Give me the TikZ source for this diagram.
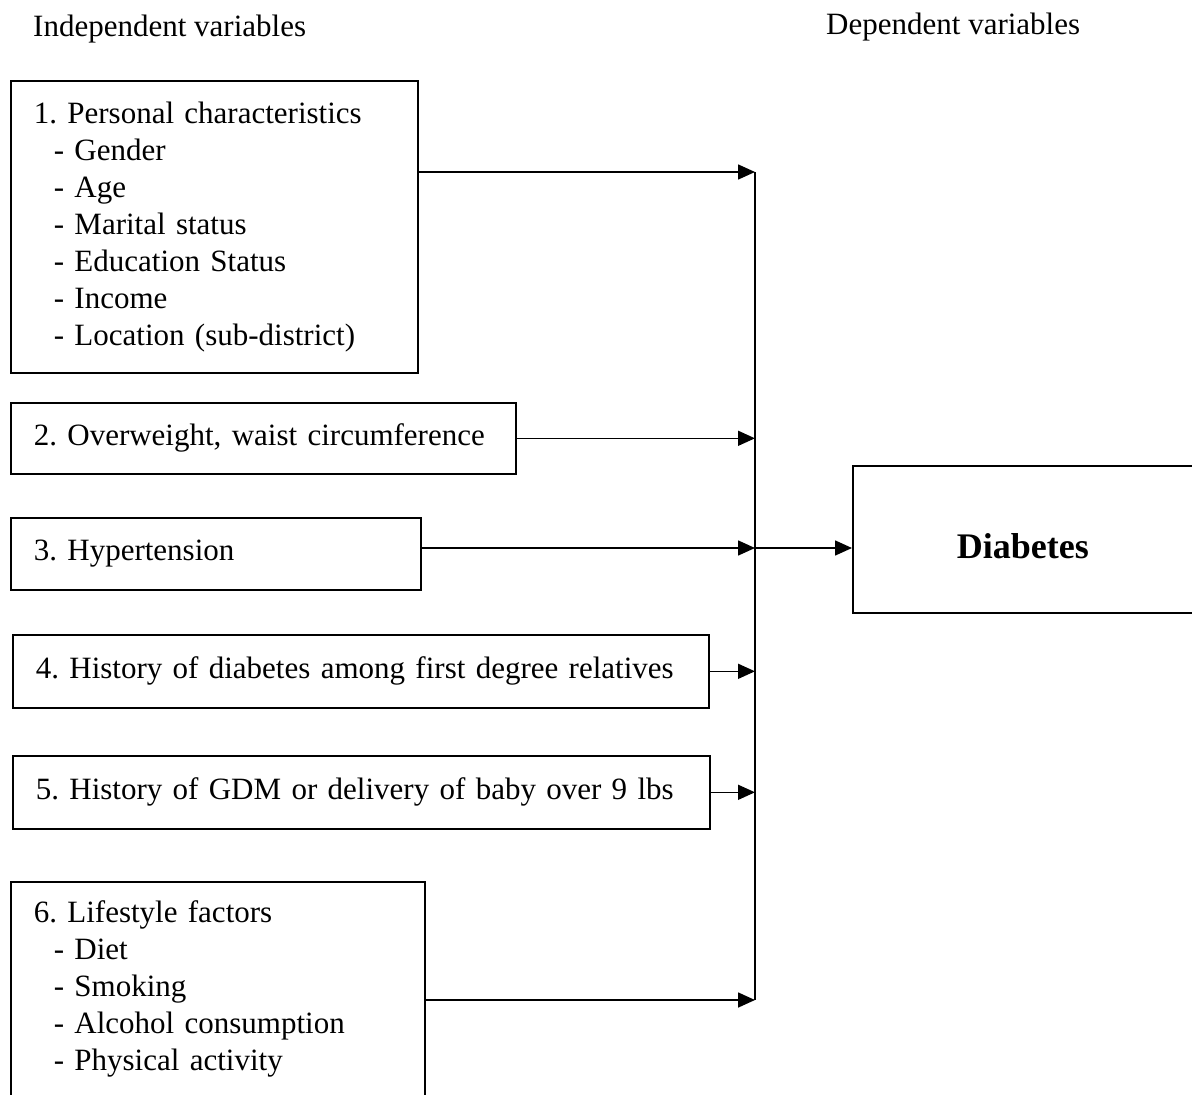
\documentclass[tikz,border=0pt]{standalone}
\usepackage{fontspec}
\setmainfont{Liberation Serif}
\usetikzlibrary{arrows.meta}
\frenchspacing
\tikzset{
  box/.style={draw, line width=1.6pt, anchor=north west, inner xsep=23pt, inner ysep=0pt, align=left,
    font=\fontsize{31}{37}\selectfont\frenchspacing},
  hdr/.style={anchor=west, inner sep=0pt, font=\fontsize{31}{37}\selectfont},
  conn/.style={line width=1.6pt},
  arr/.style={line width=1.6pt, -{Triangle[length=17pt,width=15pt]}}
}
\begin{document}
\begin{tikzpicture}[x=1pt,y=-1pt]
\useasboundingbox (0,0) rectangle (1192,1095);
\node[hdr] (h1) at (33,29) {Independent variables};
\node[hdr] (h2) at (826,27) {Dependent variables};

\node[box, text width=361pt, minimum height=292pt] (b1) at (10,80)
  {1. Personal characteristics\\
   \hspace*{20pt}- Gender\\
   \hspace*{20pt}- Age\\
   \hspace*{20pt}- Marital status\\
   \hspace*{20pt}- Education Status\\
   \hspace*{20pt}- Income\\
   \hspace*{20pt}- Location (sub-district)};
\node[box, text width=459pt, minimum height=71pt] (b2) at (10,402)
  {2. Overweight, waist circumference};
\node[box, text width=364pt, minimum height=72pt] (b3) at (10,517)
  {3. Hypertension};
\node[box, text width=650pt, minimum height=73pt] (b4) at (12,634)
  {4. History of diabetes among first degree relatives};
\node[box, text width=651pt, minimum height=73pt] (b5) at (12,755)
  {5. History of GDM or delivery of baby over 9 lbs};
\node[box, text width=368pt, minimum height=215pt] (b6) at (10,881)
  {6. Lifestyle factors\\
   \hspace*{20pt}- Diet\\
   \hspace*{20pt}- Smoking\\
   \hspace*{20pt}- Alcohol consumption\\
   \hspace*{20pt}- Physical activity};

\node[draw, line width=1.6pt, anchor=north west, minimum width=340pt, minimum height=147pt] (dia) at (852,465) {};
\node[font=\fontsize{36}{40}\selectfont\bfseries, inner sep=0pt] (diat) at ([yshift=-7pt]dia.center) {Diabetes};

\coordinate (top) at (755,172);
\coordinate (bot) at (755,1000);
\coordinate (hub) at (755,548);

\draw[conn] (top) -- (bot);
\draw[arr] (b1.east |- top) -- (top);
\draw[arr] (b2.east) -- (b2.east -| top);
\draw[arr] (b3.east |- hub) -- (hub);
\draw[arr] (b4.east) -- (b4.east -| top);
\draw[arr] (b5.east) -- (b5.east -| top);
\draw[arr] (b6.east |- bot) -- (bot);
\draw[arr] (hub) -- (dia.west |- hub);
\end{tikzpicture}
\end{document}
